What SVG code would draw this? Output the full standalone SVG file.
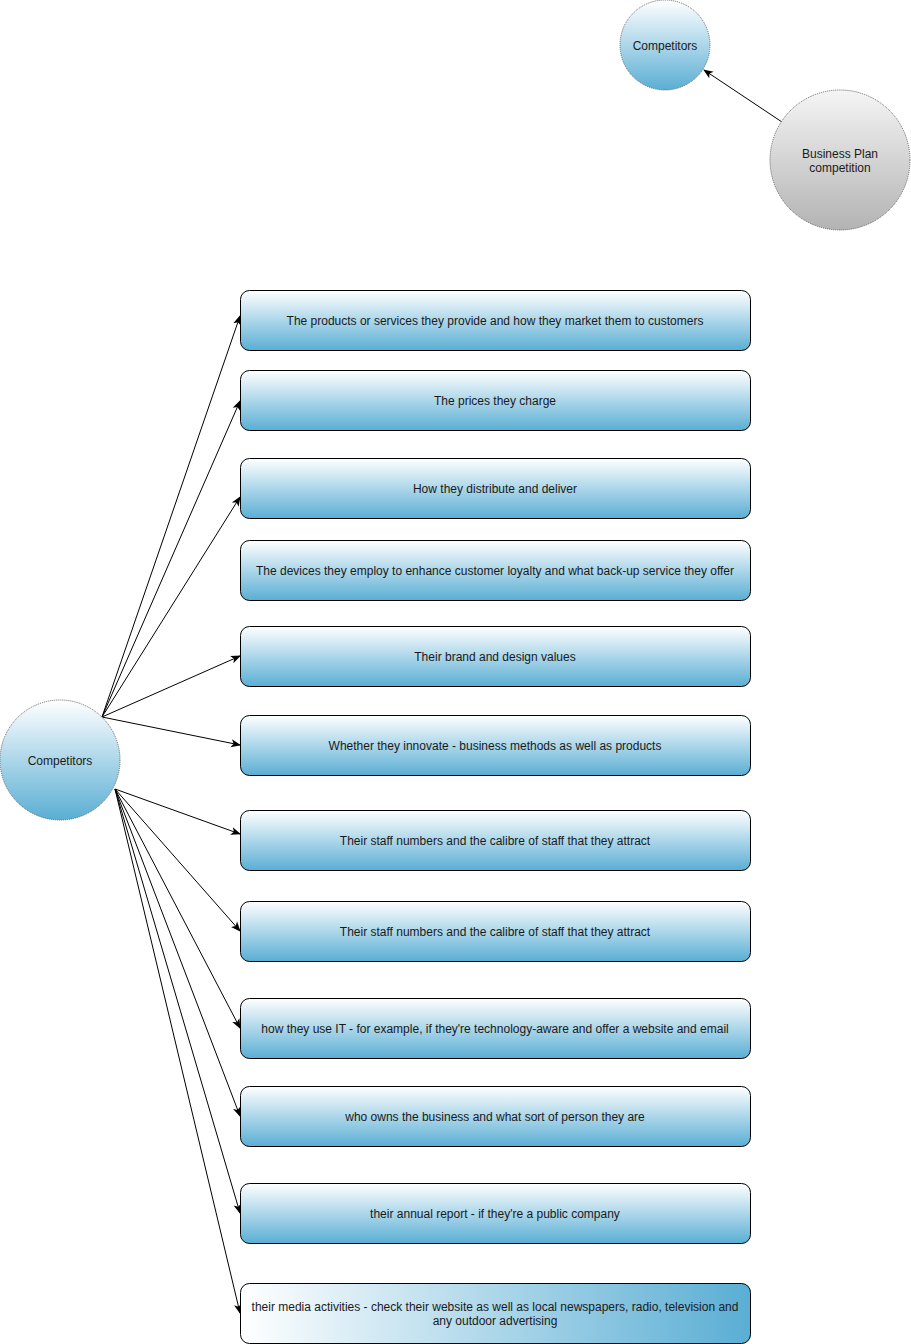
<svg xmlns="http://www.w3.org/2000/svg" width="911" height="1344" viewBox="0 0 911 1344">
  <style>
    .box { stroke: #000; stroke-width: 1; fill: url(#blueV); }
    .circ { stroke: #666; stroke-width: 1; stroke-dasharray: 1 1; }
    .lbl { font-family: "Liberation Sans", Arial, sans-serif; font-size: 12px; fill: #1a1a1a; text-anchor: middle; dominant-baseline: central; }
    .edge { stroke: #000; stroke-width: 1; fill: none; marker-end: url(#arrow); }
  </style>
  <defs>
    <linearGradient id="blueV" x1="0" y1="0" x2="0" y2="1">
      <stop offset="0" stop-color="#ffffff"/>
      <stop offset="1" stop-color="#5aaed4"/>
    </linearGradient>
    <linearGradient id="blueH" x1="0" y1="0" x2="1" y2="0">
      <stop offset="0" stop-color="#ffffff"/>
      <stop offset="1" stop-color="#5aaed4"/>
    </linearGradient>
    <linearGradient id="grayV" x1="0" y1="0" x2="0" y2="1">
      <stop offset="0" stop-color="#f5f5f5"/>
      <stop offset="1" stop-color="#b3b3b3"/>
    </linearGradient>
    <marker id="arrow" viewBox="0 0 10 10" refX="9" refY="5" markerWidth="10" markerHeight="10" markerUnits="userSpaceOnUse" orient="auto">
      <path d="M0,1 L10,5 L0,9 L2.5,5 Z" fill="#000"/>
    </marker>
  </defs>

  <g id="connectors">
    <line class="edge" x1="782" y1="122" x2="704" y2="70"/>
    <line class="edge" x1="102" y1="717" x2="240" y2="316"/>
    <line class="edge" x1="102" y1="717" x2="240" y2="401"/>
    <line class="edge" x1="102" y1="717" x2="240" y2="497"/>
    <line class="edge" x1="102" y1="717" x2="240" y2="656"/>
    <line class="edge" x1="102" y1="717" x2="240" y2="745"/>
    <line class="edge" x1="115" y1="789" x2="240" y2="834"/>
    <line class="edge" x1="115" y1="789" x2="240" y2="931"/>
    <line class="edge" x1="115" y1="789" x2="240" y2="1028"/>
    <line class="edge" x1="115" y1="789" x2="240" y2="1116"/>
    <line class="edge" x1="115" y1="789" x2="240" y2="1213"/>
    <line class="edge" x1="115" y1="789" x2="240" y2="1313"/>
  </g>

  <g id="competitors-top">
    <circle class="circ" cx="665" cy="45" r="45" fill="url(#blueV)"/>
    <text class="lbl" x="665" y="46">Competitors</text>
  </g>

  <g id="business-plan">
    <circle class="circ" cx="840" cy="160" r="70" fill="url(#grayV)"/>
    <text class="lbl" x="840" y="154">Business Plan</text>
    <text class="lbl" x="840" y="168">competition</text>
  </g>

  <g id="competitors">
    <circle class="circ" cx="60" cy="760" r="60" fill="url(#blueV)"/>
    <text class="lbl" x="60" y="761">Competitors</text>
  </g>

  <g id="item-1">
    <rect class="box" x="240.5" y="290.5" width="510" height="60" rx="9"/>
    <text class="lbl" x="495" y="320.5">The products or services they provide and how they market them to customers</text>
  </g>
  <g id="item-2">
    <rect class="box" x="240.5" y="370.5" width="510" height="60" rx="9"/>
    <text class="lbl" x="495" y="400.5">The prices they charge</text>
  </g>
  <g id="item-3">
    <rect class="box" x="240.5" y="458.5" width="510" height="60" rx="9"/>
    <text class="lbl" x="495" y="488.5">How they distribute and deliver</text>
  </g>
  <g id="item-4">
    <rect class="box" x="240.5" y="540.5" width="510" height="60" rx="9"/>
    <text class="lbl" x="495" y="570.5">The devices they employ to enhance customer loyalty and what back-up service they offer</text>
  </g>
  <g id="item-5">
    <rect class="box" x="240.5" y="626.5" width="510" height="60" rx="9"/>
    <text class="lbl" x="495" y="656.5">Their brand and design values</text>
  </g>
  <g id="item-6">
    <rect class="box" x="240.5" y="715.5" width="510" height="60" rx="9"/>
    <text class="lbl" x="495" y="745.5">Whether they innovate - business methods as well as products</text>
  </g>
  <g id="item-7">
    <rect class="box" x="240.5" y="810.5" width="510" height="60" rx="9"/>
    <text class="lbl" x="495" y="840.5">Their staff numbers and the calibre of staff that they attract</text>
  </g>
  <g id="item-8">
    <rect class="box" x="240.5" y="901.5" width="510" height="60" rx="9"/>
    <text class="lbl" x="495" y="931.5">Their staff numbers and the calibre of staff that they attract</text>
  </g>
  <g id="item-9">
    <rect class="box" x="240.5" y="998.5" width="510" height="60" rx="9"/>
    <text class="lbl" x="495" y="1028.5">how they use IT - for example, if they're technology-aware and offer a website and email</text>
  </g>
  <g id="item-10">
    <rect class="box" x="240.5" y="1086.5" width="510" height="60" rx="9"/>
    <text class="lbl" x="495" y="1116.5">who owns the business and what sort of person they are</text>
  </g>
  <g id="item-11">
    <rect class="box" x="240.5" y="1183.5" width="510" height="60" rx="9"/>
    <text class="lbl" x="495" y="1213.5">their annual report - if they're a public company</text>
  </g>
  <g id="item-12">
    <rect class="box" x="240.5" y="1283.5" width="510" height="60" rx="9" style="fill:url(#blueH)"/>
    <text class="lbl" x="495" y="1306.5">their media activities - check their website as well as local newspapers, radio, television and</text>
    <text class="lbl" x="495" y="1320.5">any outdoor advertising</text>
  </g>
</svg>
